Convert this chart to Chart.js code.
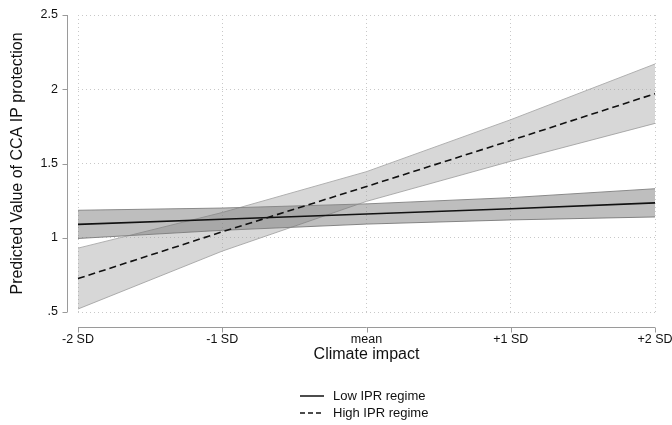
<!DOCTYPE html>
<html>
<head>
<meta charset="utf-8">
<title>Predicted Value of CCA IP protection</title>
<script src="https://cdn.jsdelivr.net/npm/chart.js@4"></script>
<style>
    html, body { margin: 0; padding: 0; background: #fff; }
    #wrap { width: 672px; height: 425px; }
</style>
</head>
<body>
<div id="wrap"><canvas id="marginsChart" width="672" height="425"></canvas></div>
<script>
// ===== DATA =====
const xLabels = ['-2 SD', '-1 SD', 'mean', '+1 SD', '+2 SD'];
const yTickValues = [0.5, 1, 1.5, 2, 2.5];
const yTickLabels = ['.5', '1', '1.5', '2', '2.5'];

const lowFit = [1.09, 1.125, 1.16, 1.195, 1.235];
const lowUpper = [1.185, 1.20, 1.228, 1.27, 1.33];
const lowLower = [0.995, 1.05, 1.092, 1.12, 1.14];

const highFit = [0.725, 1.04, 1.345, 1.655, 1.97];
const highUpper = [0.93, 1.17, 1.445, 1.795, 2.17];
const highLower = [0.52, 0.91, 1.245, 1.515, 1.77];

const legendNames = ['Low IPR regime', 'High IPR regime'];

const FONT = "'Liberation Sans', Arial, Helvetica, sans-serif";
const AXIS_GRAY = '#9a9a9a';

// ===== AXES + LEGEND (Stata style, offset axes) =====
const stataAxes = {
    id: 'stataAxes',
    afterDraw(chart) {
        const ctx = chart.ctx;
        const xs = chart.scales.x;
        const ys = chart.scales.y;
        const area = chart.chartArea;

        ctx.save();
        ctx.strokeStyle = AXIS_GRAY;
        ctx.lineWidth = 1;

        // y axis line, sitting left of the plot region
        const ax = area.left - 10.5;
        ctx.beginPath();
        ctx.moveTo(ax, ys.getPixelForValue(yTickValues[0]));
        ctx.lineTo(ax, ys.getPixelForValue(yTickValues[yTickValues.length - 1]));
        yTickValues.forEach(v => {
            const py = Math.round(ys.getPixelForValue(v)) + 0.5;
            ctx.moveTo(ax, py);
            ctx.lineTo(ax - 5, py);
        });
        ctx.stroke();

        // x axis line, below the plot region
        const ay = area.bottom + 15.5;
        ctx.beginPath();
        ctx.moveTo(xs.getPixelForValue(0), ay);
        ctx.lineTo(xs.getPixelForValue(xLabels.length - 1), ay);
        xLabels.forEach((_, i) => {
            const px = Math.round(xs.getPixelForValue(i)) + 0.5;
            ctx.moveTo(px, ay);
            ctx.lineTo(px, ay + 5);
        });
        ctx.stroke();

        // legend
        const lx = 300, tx = 333;
        const rows = [396, 413];
        ctx.strokeStyle = '#111';
        ctx.lineWidth = 1.5;
        ctx.fillStyle = '#111';
        ctx.font = '13px ' + FONT;
        ctx.textBaseline = 'middle';
        rows.forEach((y, i) => {
            ctx.setLineDash(i === 0 ? [] : [5, 3]);
            ctx.beginPath();
            ctx.moveTo(lx, y);
            ctx.lineTo(lx + 24, y);
            ctx.stroke();
            ctx.fillText(legendNames[i], tx, y);
        });
        ctx.restore();
    }
};

function bandLine(data, fill, fillColor, lineColor, order) {
    return {
        data: data,
        fill: fill,
        backgroundColor: fillColor,
        borderColor: lineColor,
        borderWidth: 1,
        pointRadius: 0,
        tension: 0,
        order: order
    };
}

function initChart() {
    const ctx = document.getElementById('marginsChart');

    new Chart(ctx, {
        type: 'line',
        data: {
            labels: xLabels,
            datasets: [
                {
                    label: legendNames[0],
                    data: lowFit,
                    borderColor: '#111',
                    borderWidth: 1.6,
                    pointRadius: 0,
                    fill: false,
                    order: 1
                },
                {
                    label: legendNames[1],
                    data: highFit,
                    borderColor: '#111',
                    borderWidth: 1.6,
                    borderDash: [7, 4],
                    pointRadius: 0,
                    fill: false,
                    order: 2
                },
                bandLine(lowUpper, '+1', 'rgba(110,110,110,0.45)', '#8a8a8a', 3),
                bandLine(lowLower, false, 'transparent', '#8a8a8a', 3),
                bandLine(highUpper, '+1', 'rgba(150,150,150,0.38)', '#b0b0b0', 4),
                bandLine(highLower, false, 'transparent', '#b0b0b0', 4)
            ]
        },
        options: {
            responsive: false,
            animation: false,
            layout: {
                padding: { left: 0, right: 0, top: 0, bottom: 61 }
            },
            plugins: {
                legend: { display: false },
                tooltip: { enabled: false }
            },
            scales: {
                x: {
                    type: 'category',
                    offset: false,
                    grid: {
                        color: '#c8c8c8',
                        drawTicks: false
                    },
                    border: { display: false, dash: [1, 3] },
                    ticks: {
                        color: '#111',
                        padding: 20,
                        maxRotation: 0,
                        font: { size: 12.5, family: FONT }
                    },
                    title: {
                        display: true,
                        text: 'Climate impact',
                        color: '#111',
                        font: { size: 16, family: FONT },
                        padding: { top: 0, bottom: 0 }
                    },
                    afterFit(scale) {
                        scale.height = 52;
                        scale.paddingLeft = 0;
                        scale.paddingRight = 17;
                    }
                },
                y: {
                    min: 0.5,
                    max: 2.5,
                    afterBuildTicks(scale) {
                        scale.ticks = yTickValues.map(v => ({ value: v }));
                    },
                    grid: {
                        color: '#c8c8c8',
                        drawTicks: false
                    },
                    border: { display: false, dash: [1, 3] },
                    ticks: {
                        color: '#111',
                        padding: 20,
                        font: { size: 12.5, family: FONT },
                        callback: function(value) {
                            const i = yTickValues.indexOf(value);
                            return i >= 0 ? yTickLabels[i] : '';
                        }
                    },
                    title: {
                        display: true,
                        text: 'Predicted Value of CCA IP protection',
                        color: '#111',
                        font: { size: 16, family: FONT },
                        padding: { top: 8, bottom: 0 }
                    },
                    afterFit(scale) {
                        scale.width = 78;
                        scale.paddingTop = 15;
                        scale.paddingBottom = 0;
                    }
                }
            }
        },
        plugins: [stataAxes]
    });
}

initChart();
</script>
</body>
</html>
